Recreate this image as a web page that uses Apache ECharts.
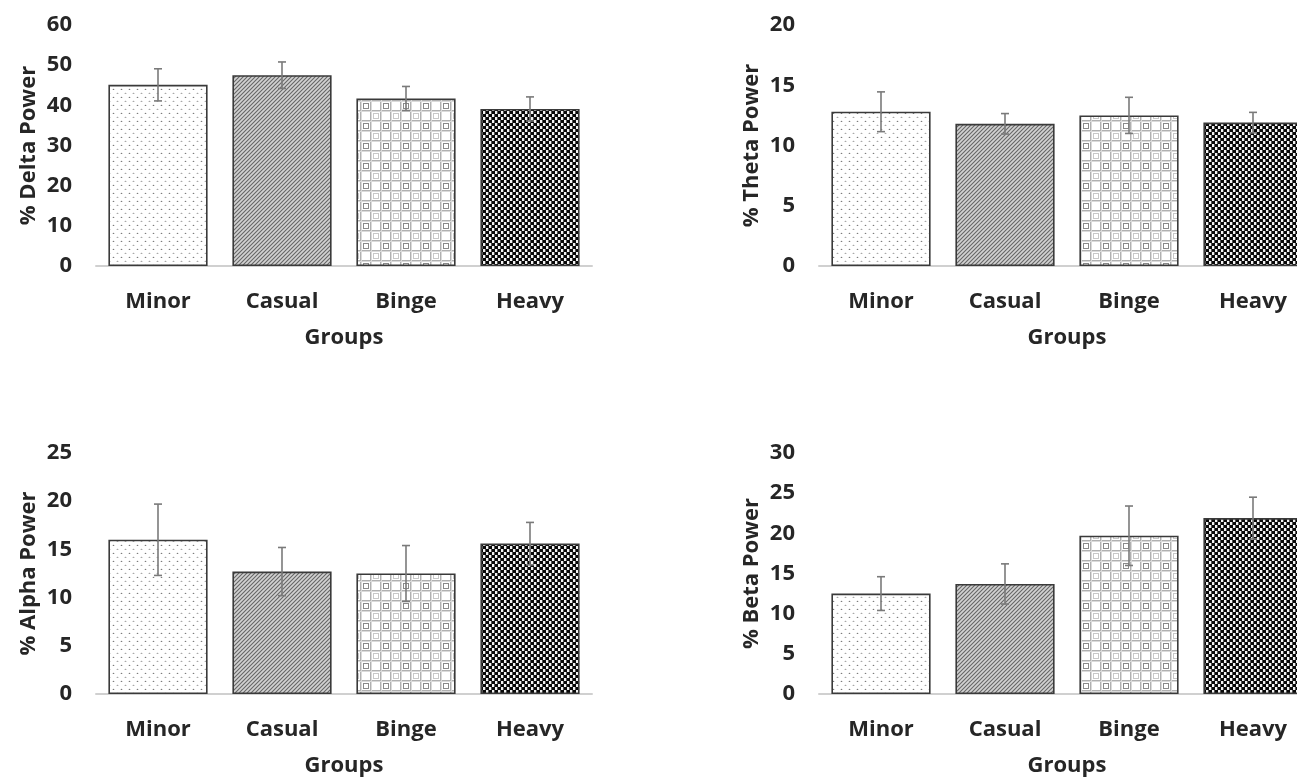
<!DOCTYPE html>
<html>
<head>
<meta charset="utf-8">
<script src="https://cdn.jsdelivr.net/npm/echarts@6/dist/echarts.min.js"></script>
<style>
  html, body { margin: 0; padding: 0; background: #fff; overflow: hidden; width: 1297px; height: 778px; }
  #chart { width: 1320px; height: 778px; }
</style>
</head>
<body>
<div id="chart"></div>
<script>
// ---- data ----
const categories = ['Minor', 'Casual', 'Binge', 'Heavy'];
const xAxisTitle = 'Groups';

const deltaMean = [45.1, 47.5, 41.7, 39.1];
const deltaErr  = [4.0, 3.3, 3.0, 3.0];
const thetaMean = [12.8, 11.8, 12.5, 11.9];
const thetaErr  = [1.65, 0.85, 1.5, 0.85];
const alphaMean = [16.0, 12.7, 12.5, 15.6];
const alphaErr  = [3.7, 2.5, 2.9, 2.2];
const betaMean  = [12.5, 13.7, 19.7, 21.9];
const betaErr   = [2.1, 2.5, 3.7, 2.6];

const panelTitles = ['% Delta Power', '% Theta Power', '% Alpha Power', '% Beta Power'];
const yMax      = [60, 20, 25, 30];
const yInterval = [10, 5, 5, 5];

// ---- fill patterns ----
function makeCanvas(w, h, draw) {
  const c = document.createElement('canvas');
  c.width = w; c.height = h;
  draw(c.getContext('2d'));
  return c;
}
const patMinor = makeCanvas(8, 8, ctx => {
  ctx.fillStyle = '#ffffff'; ctx.fillRect(0, 0, 8, 8);
  ctx.fillStyle = '#7c7c7c'; ctx.fillRect(1, 1, 1, 1);
  ctx.fillStyle = '#a8a8a8'; ctx.fillRect(5, 5, 1, 1);
  ctx.fillStyle = '#e0e0e0'; ctx.fillRect(0, 1, 1, 1); ctx.fillRect(2, 1, 1, 1);
  ctx.fillRect(4, 5, 1, 1); ctx.fillRect(6, 5, 1, 1);
  ctx.fillStyle = '#ececec'; ctx.fillRect(1, 0, 1, 1); ctx.fillRect(5, 4, 1, 1);
});
const patCasual = makeCanvas(4, 4, ctx => {
  ctx.fillStyle = '#d2d2d2'; ctx.fillRect(0, 0, 4, 4);
  ctx.strokeStyle = '#666666'; ctx.lineWidth = 1.1;
  ctx.beginPath();
  ctx.moveTo(-1, 5); ctx.lineTo(5, -1);
  ctx.moveTo(-3, 3); ctx.lineTo(3, -3);
  ctx.moveTo(1, 7); ctx.lineTo(7, 1);
  ctx.stroke();
});
const patBinge = makeCanvas(20, 20, ctx => {
  ctx.fillStyle = '#ffffff'; ctx.fillRect(0, 0, 20, 20);
  ctx.fillStyle = '#b0b0b0';
  ctx.fillRect(0, 0, 20, 1); ctx.fillRect(0, 10, 20, 1);
  ctx.fillRect(0, 0, 1, 20); ctx.fillRect(10, 0, 1, 20);
  ctx.fillStyle = '#dadada';
  ctx.fillRect(0, 1, 20, 1); ctx.fillRect(0, 11, 20, 1);
  ctx.fillRect(1, 0, 1, 20); ctx.fillRect(11, 0, 1, 20);
  ctx.strokeStyle = '#8a8a8a'; ctx.lineWidth = 1;
  ctx.strokeRect(3.5, 3.5, 5, 5);
  ctx.strokeStyle = '#c8c8c8';
  ctx.strokeRect(13.5, 13.5, 5, 5);
});
const patHeavy = makeCanvas(6, 6, ctx => {
  ctx.fillStyle = '#080808'; ctx.fillRect(0, 0, 6, 6);
  ctx.fillStyle = '#f2f2f2';
  ctx.fillRect(0, 0, 3, 3); ctx.fillRect(3, 3, 3, 3);
  ctx.fillStyle = '#555555';
  ctx.fillRect(2, 0, 1, 3); ctx.fillRect(5, 3, 1, 3);
});
const patterns = [patMinor, patCasual, patBinge, patHeavy];

// ---- layout ----
const grids = [
  { left: 96,  top: 25,  width: 496, height: 241 },
  { left: 819, top: 25,  width: 496, height: 241 },
  { left: 96,  top: 453, width: 496, height: 242 },
  { left: 819, top: 453, width: 496, height: 243 }
];
const means = [deltaMean, thetaMean, alphaMean, betaMean];
const errs  = [deltaErr, thetaErr, alphaErr, betaErr];

const textColor = '#262626';
const fontFamily = '"Open Sans", "Noto Sans", sans-serif';

const xAxes = [], yAxes = [], series = [];
for (let p = 0; p < 4; p++) {
  xAxes.push({
    type: 'category', gridIndex: p, data: categories,
    name: xAxisTitle, nameLocation: 'middle', nameGap: 61,
    nameTextStyle: { color: textColor, fontSize: 22, fontWeight: 'bold', fontFamily },
    axisLine: { show: true, lineStyle: { color: '#d0d0d0', width: 2 } },
    axisTick: { show: false },
    axisLabel: { color: textColor, fontSize: 22, fontWeight: 'bold', fontFamily, margin: 25 },
    splitLine: { show: false }
  });
  yAxes.push({
    type: 'value', gridIndex: p, min: 0, max: yMax[p], interval: yInterval[p],
    name: panelTitles[p], nameLocation: 'middle', nameGap: 56, nameRotate: 90,
    nameTextStyle: { color: textColor, fontSize: 22, fontWeight: 'bold', fontFamily },
    axisLine: { show: false }, axisTick: { show: false },
    splitLine: { show: false },
    axisLabel: { color: textColor, fontSize: 22, fontWeight: 'bold', fontFamily, margin: 24 }
  });
  series.push({
    type: 'bar', xAxisIndex: p, yAxisIndex: p,
    barCategoryGap: '20%',
    data: means[p].map((v, i) => ({
      value: v,
      itemStyle: {
        color: { image: patterns[i], repeat: 'repeat' },
        borderColor: '#3a3a3a', borderWidth: 1.6
      }
    })),
    emphasis: { disabled: true },
    z: 2
  });
  series.push({
    type: 'custom', xAxisIndex: p, yAxisIndex: p,
    data: means[p].map((v, i) => [i, v, errs[p][i]]),
    renderItem: function (params, api) {
      const i = api.value(0), m = api.value(1), e = api.value(2);
      const top = api.coord([i, m + e]);
      const bot = api.coord([i, m - e]);
      const hw = 4;
      const style = { stroke: '#7a7a7a', lineWidth: 1.6 };
      return {
        type: 'group',
        children: [
          { type: 'line', shape: { x1: top[0], y1: top[1], x2: bot[0], y2: bot[1] }, style },
          { type: 'line', shape: { x1: top[0] - hw, y1: top[1], x2: top[0] + hw, y2: top[1] }, style },
          { type: 'line', shape: { x1: bot[0] - hw, y1: bot[1], x2: bot[0] + hw, y2: bot[1] }, style }
        ]
      };
    },
    z: 3, silent: true
  });
}

const chart = echarts.init(document.getElementById('chart'), null, { renderer: 'canvas' });
chart.setOption({
  backgroundColor: '#ffffff',
  animation: false,
  grid: grids,
  xAxis: xAxes,
  yAxis: yAxes,
  series: series
});
</script>
</body>
</html>
